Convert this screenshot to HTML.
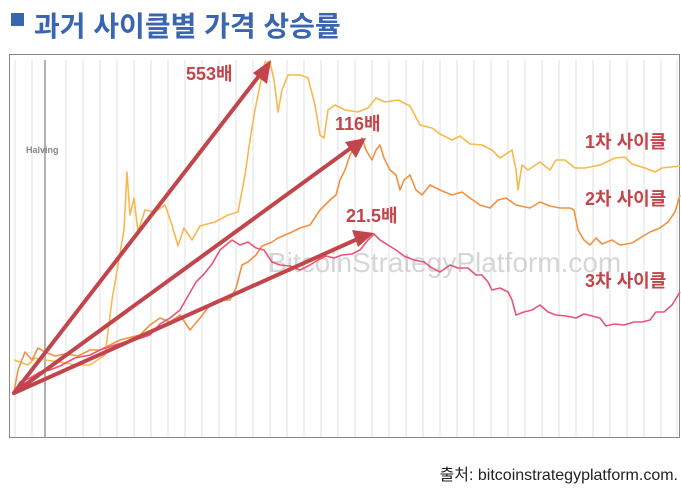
<!DOCTYPE html>
<html><head><meta charset="utf-8"><style>
body{margin:0;background:#fff;width:681px;height:500px;overflow:hidden;font-family:"Liberation Sans","Noto Sans CJK KR",sans-serif}
</style></head><body>
<svg width="681" height="500" xmlns="http://www.w3.org/2000/svg" style="position:absolute;left:0;top:0">
<rect x="11" y="13" width="13" height="13" fill="#3a66b0"/>
<text x="34" y="36" font-size="28" font-weight="bold" fill="#3a66b0" font-family="Liberation Sans,Noto Sans CJK KR,sans-serif">과거 사이클별 가격 상승률</text>
<rect x="9.5" y="54.5" width="670" height="383" fill="#fff" stroke="#888" stroke-width="1"/>
<g stroke="#e6e6e6" stroke-width="1.2">
<line x1="15" y1="60" x2="15" y2="437"/><line x1="32" y1="60" x2="32" y2="437"/><line x1="66" y1="60" x2="66" y2="437"/><line x1="83" y1="60" x2="83" y2="437"/><line x1="100" y1="60" x2="100" y2="437"/><line x1="117" y1="60" x2="117" y2="437"/><line x1="134" y1="60" x2="134" y2="437"/><line x1="151" y1="60" x2="151" y2="437"/><line x1="168" y1="60" x2="168" y2="437"/><line x1="185" y1="60" x2="185" y2="437"/><line x1="202" y1="60" x2="202" y2="437"/><line x1="219" y1="60" x2="219" y2="437"/><line x1="236" y1="60" x2="236" y2="437"/><line x1="253" y1="60" x2="253" y2="437"/><line x1="270" y1="60" x2="270" y2="437"/><line x1="287" y1="60" x2="287" y2="437"/><line x1="304" y1="60" x2="304" y2="437"/><line x1="321" y1="60" x2="321" y2="437"/><line x1="338" y1="60" x2="338" y2="437"/><line x1="355" y1="60" x2="355" y2="437"/><line x1="372" y1="60" x2="372" y2="437"/><line x1="389" y1="60" x2="389" y2="437"/><line x1="406" y1="60" x2="406" y2="437"/><line x1="423" y1="60" x2="423" y2="437"/><line x1="440" y1="60" x2="440" y2="437"/><line x1="457" y1="60" x2="457" y2="437"/><line x1="474" y1="60" x2="474" y2="437"/><line x1="491" y1="60" x2="491" y2="437"/><line x1="508" y1="60" x2="508" y2="437"/><line x1="525" y1="60" x2="525" y2="437"/><line x1="542" y1="60" x2="542" y2="437"/><line x1="559" y1="60" x2="559" y2="437"/><line x1="576" y1="60" x2="576" y2="437"/><line x1="593" y1="60" x2="593" y2="437"/><line x1="610" y1="60" x2="610" y2="437"/><line x1="627" y1="60" x2="627" y2="437"/><line x1="644" y1="60" x2="644" y2="437"/><line x1="661" y1="60" x2="661" y2="437"/><line x1="677" y1="60" x2="677" y2="437"/>
</g>
<line x1="45" y1="60" x2="45" y2="437" stroke="#999" stroke-width="1.5"/>
<text x="26" y="153" font-size="9" font-weight="bold" fill="#888">Halving</text>
<text x="268" y="272" font-size="28" fill="#bbb" opacity="0.6">BitcoinStrategyPlatform.com</text>
<g fill="none" stroke-width="1.6" stroke-linejoin="round">
<polyline stroke="#f7b94e" points="14,360 20,362 28,365 35,358 45,360 60,362 75,365 90,365 105,355 112,300 118,265 124,230 127,172 130,215 134,198 138,232 145,210 155,212 165,205 172,225 178,246 184,228 192,240 200,226 215,222 228,215 238,212 245,175 250,140 255,110 260,85 265,62 270,62 274,80 278,112 282,90 288,75 300,75 308,78 315,105 320,135 324,138 328,110 335,105 345,110 358,112 368,108 376,98 385,102 398,100 410,106 420,125 432,128 440,134 452,140 460,136 470,144 482,145 492,150 500,158 512,150 516,170 518,190 522,165 528,170 540,162 550,170 556,160 565,160 575,168 585,168 600,165 615,158 625,157 632,164 645,168 655,172 662,168 680,166"/>
<polyline stroke="#f29240" points="14,392 18,370 25,352 32,360 38,348 45,352 55,356 65,354 78,356 90,350 100,350 120,340 140,335 150,325 160,318 170,322 180,315 190,330 200,318 210,305 220,300 230,300 236,288 242,265 248,262 256,255 262,246 272,242 278,238 285,235 292,232 300,228 310,225 320,210 330,200 336,195 340,180 345,170 350,155 356,145 362,138 366,150 372,160 376,150 380,145 384,158 390,170 396,175 400,190 404,180 410,175 416,190 422,195 430,185 440,190 452,195 462,192 470,198 480,205 490,208 498,200 506,198 516,205 530,208 540,202 550,206 560,208 570,208 574,210 578,230 584,240 590,245 596,238 602,244 612,240 620,245 632,243 640,238 650,232 660,228 668,222 675,212 680,195"/>
<polyline stroke="#ea5474" points="14,392 20,382 30,378 40,372 50,370 60,366 75,358 90,355 100,350 115,345 125,342 135,340 150,335 160,324 170,318 180,310 188,296 196,282 204,274 212,264 220,250 226,245 232,240 240,245 248,242 256,248 264,250 272,262 280,265 290,266 300,270 310,265 318,260 326,256 334,258 342,255 352,254 360,250 368,240 374,234 380,240 388,245 396,250 404,256 414,260 424,262 432,268 440,272 450,265 458,268 468,268 476,275 482,275 488,282 492,290 500,288 508,292 512,300 516,315 524,312 532,310 540,305 548,312 556,315 566,316 576,318 584,314 592,316 600,318 606,326 614,324 624,325 634,322 642,322 650,320 656,312 664,312 672,305 680,292"/>
</g>
<g stroke="#c2454b" stroke-width="4" fill="#c2454b" stroke-linecap="round">
<line x1="14" y1="393" x2="262" y2="72"/>
<line x1="14" y1="393" x2="355" y2="145"/>
<line x1="14" y1="393" x2="362" y2="237"/>
<polygon points="271,60 253,73 267,84" stroke="none"/>
<polygon points="366,138 345,142 356,158" stroke="none"/>
<polygon points="374,233 352,230 358,247" stroke="none"/>
</g>
<g font-weight="bold" fill="#c2454b" font-size="18">
<text x="186" y="80">553배</text>
<text x="335" y="130">116배</text>
<text x="346" y="222">21.5배</text>
<text x="585" y="148">1차 사이클</text>
<text x="585" y="205">2차 사이클</text>
<text x="585" y="287">3차 사이클</text>
</g>
<text x="678" y="480" text-anchor="end" font-size="16" fill="#222">출처: bitcoinstrategyplatform.com.</text>
</svg>
</body></html>
